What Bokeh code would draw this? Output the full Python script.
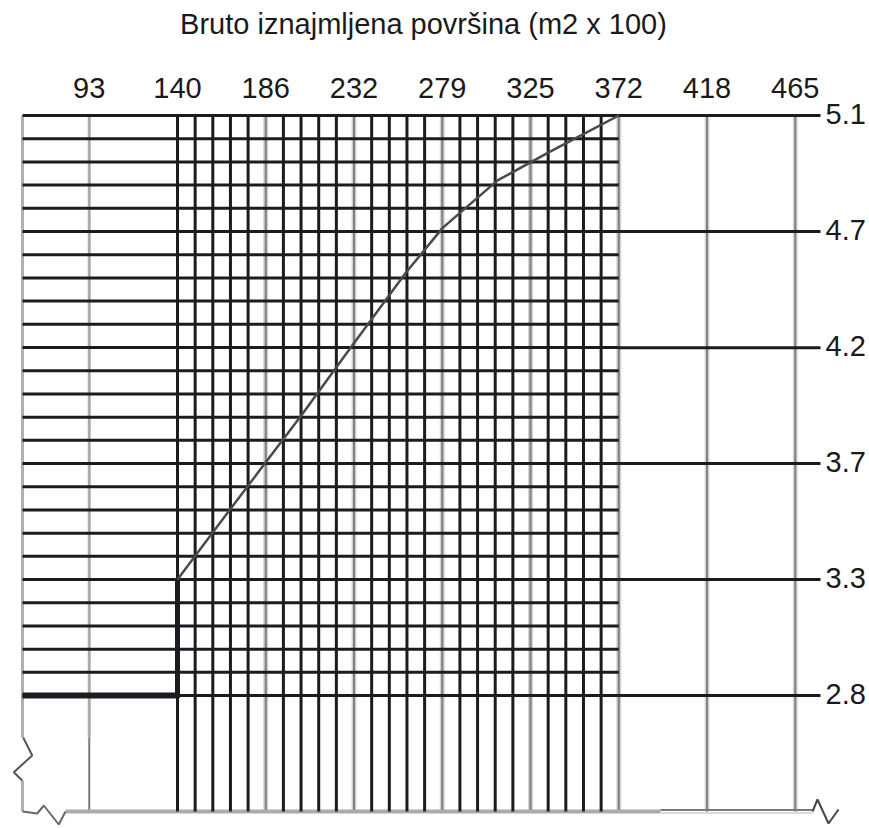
import numpy as np
from bokeh.plotting import figure
from bokeh.models import Range1d
from bokeh.core.properties import value
from bokeh.embed import file_html
from bokeh.resources import INLINE

# ---------------- data ----------------
title_text = "Bruto iznajmljena površina (m2 x 100)"
x_ticks = [92.9, 139.35, 185.8, 232.25, 278.7, 325.15, 371.6, 418.05, 464.5]
x_tick_labels = ["93", "140", "186", "232", "279", "325", "372", "418", "465"]
y_ticks = [5.11, 4.645, 4.18, 3.716, 3.2515, 2.787]
y_tick_labels = ["5.1", "4.7", "4.2", "3.7", "3.3", "2.8"]
y_floor = 2.3225
curve_x = [139.35, 165.8, 184.7, 204.6, 226.6, 259.5, 278.9, 307.8, 334.2, 354.2, 371.6]
curve_y = [3.2515, 3.52, 3.71, 3.91, 4.14, 4.48, 4.66, 4.85, 4.96, 5.04, 5.11]
step_y = [2.787, 3.2515]

# ---------------- layout ----------------
W, H = 869, 828
OFF = 0                         # page offset of the canvas
SX, SY = 1.90, 249.7            # pixels per unit
PX_REF, PY_REF = 177, 115       # page pixel of x_ticks[1] / y_ticks[0]


def X(px):
    return x_ticks[1] + (px - PX_REF) / SX


def Y(py):
    return y_ticks[0] - (py - PY_REF) / SY


BLACK = "#1a1c20"
p = figure(width=W, height=H, output_backend="svg", toolbar_location=None,
           x_range=Range1d(X(OFF), X(OFF + W)), y_range=Range1d(Y(OFF + H), Y(OFF)),
           x_axis_location=None, y_axis_location=None,
           min_border=0, min_border_left=0, min_border_right=0,
           min_border_top=0, min_border_bottom=0)
p.outline_line_color = None
p.grid.visible = False
p.background_fill_color = "white"
p.border_fill_color = "white"

x_left = X(22)
x_end = X(820)
x_minor = np.linspace(x_ticks[1], x_ticks[6], 26)
black_vx = [v for i, v in enumerate(x_minor) if i == 0 or i % 5 != 0]
y_minor = np.linspace(y_ticks[-1], y_ticks[0], 26)

# grey major verticals
grey_inner = x_ticks[2:7]
grey_outer = x_ticks[7:9]
p.segment(x0=grey_inner, x1=grey_inner, y0=y_floor, y1=y_ticks[0],
          line_color="#d2d2d2", line_width=5)
p.segment(x0=grey_outer, x1=grey_outer, y0=y_floor, y1=y_ticks[0],
          line_color="#d8d8d8", line_width=5)
p.segment(x0=grey_inner + grey_outer, x1=grey_inner + grey_outer,
          y0=y_floor, y1=y_ticks[0], line_color="#7f7f7f", line_width=2)
p.segment(x0=[x_ticks[0]], x1=[x_ticks[0]], y0=[Y(737)], y1=[y_ticks[0]],
          line_color="#ababab", line_width=3)
p.segment(x0=[x_ticks[0]], x1=[x_ticks[0]], y0=[y_floor], y1=[Y(737)],
          line_color="#7a7a7a", line_width=2)

# left edge with break
p.segment(x0=[x_left, x_left], x1=[x_left, x_left],
          y0=[Y(737), y_floor], y1=[y_ticks[0], Y(780)],
          line_color="#b0b0b0", line_width=3)

# bottom line
p.segment(x0=[X(65)], x1=[X(660)], y0=[y_floor], y1=[y_floor],
          line_color="#ababab", line_width=4)
p.segment(x0=[X(660)], x1=[X(812)], y0=[y_floor + 1.5 / SY], y1=[y_floor + 1.5 / SY],
          line_color="#7a7a7a", line_width=2)
p.segment(x0=[X(660)], x1=[X(812)], y0=[y_floor - 1.5 / SY], y1=[y_floor - 1.5 / SY],
          line_color="#dcdcdc", line_width=2)

# black minor grid
p.segment(x0=black_vx, x1=black_vx, y0=y_floor, y1=y_ticks[0],
          line_color=BLACK, line_width=3)
p.segment(x0=x_left, x1=x_ticks[6], y0=y_minor, y1=y_minor,
          line_color=BLACK, line_width=3)
p.segment(x0=x_ticks[6], x1=x_end, y0=y_ticks, y1=y_ticks,
          line_color=BLACK, line_width=3)

# break marks
zl = [(22.7, 737), (31.7, 755), (13.3, 771.7), (21.7, 780)]
p.line([X(a) for a, b in zl], [Y(b) for a, b in zl], line_color="#555555", line_width=2)
zb = [(22, 811), (36.7, 813), (43.3, 805), (58.3, 824), (65, 811)]
p.line([X(a) for a, b in zb], [Y(b) for a, b in zb], line_color="#6a6a6a", line_width=2)
zr = [(812, 811), (817, 799), (828, 823), (838, 809)]
p.line([X(a) for a, b in zr], [Y(b) for a, b in zr], line_color="#444444", line_width=2)

# step + curve
p.line([x_left, x_ticks[1]], [step_y[0], step_y[0]], line_color=BLACK, line_width=6)
p.line([x_ticks[1], x_ticks[1]], [step_y[0] - 2.5 / SY, step_y[1]], line_color=BLACK, line_width=5)
p.line(curve_x, curve_y, line_color="#4a4a4a", line_width=2.5)

# texts
TICK_FONT = value("Liberation Sans")
p.text(x=x_ticks, y=[Y(87.5)] * len(x_ticks), text=x_tick_labels,
       text_align="center", text_baseline="middle",
       text_font=TICK_FONT, text_font_size=value("29px"), text_color="#1a1a1a")
p.text(x=[X(825)] * len(y_ticks), y=[v + 2 / SY for v in y_ticks], text=y_tick_labels,
       text_align="left", text_baseline="middle",
       text_font=TICK_FONT, text_font_size=value("29px"), text_color="#1a1a1a")
p.text(x=[X(423)], y=[Y(23)], text=[title_text],
       text_align="center", text_baseline="middle",
       text_font=value("Liberation Sans"), text_font_size=value("29px"), text_color="#1a1a1a")

open("out.html", "w").write(file_html(p, INLINE))
